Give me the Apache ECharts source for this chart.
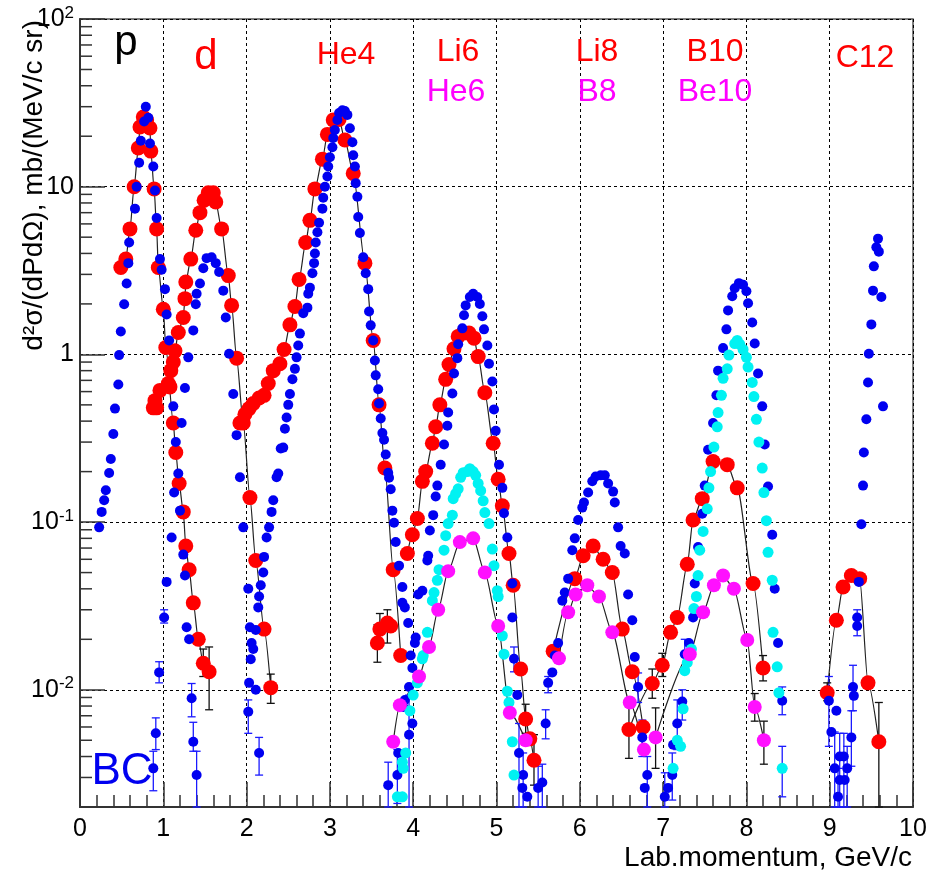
<!DOCTYPE html>
<html><head><meta charset="utf-8">
<script src="https://cdn.jsdelivr.net/npm/echarts@6/dist/echarts.min.js"></script>
<style>html,body{margin:0;padding:0;background:#fff}#c{width:930px;height:876px}</style>
</head><body><div id="c"></div>
<script>
// ---------- data (x: GeV/c, y: mb/(MeV/c sr)) ----------
const xTicks = [0,1,2,3,4,5,6,7,8,9,10];
const yMajor = [0.01,0.1,1,10,100];
const yMinor = [0.003,0.004,0.005,0.006,0.007,0.008,0.009,
  0.02,0.03,0.04,0.05,0.06,0.07,0.08,0.09,
  0.2,0.3,0.4,0.5,0.6,0.7,0.8,0.9,
  2,3,4,5,6,7,8,9,
  20,30,40,50,60,70,80,90];

const redP = [[0.49,3.3],[0.55,3.7],[0.60,5.6],[0.65,10],[0.70,17],[0.72,22.7],[0.76,26],[0.80,25],[0.84,22.4],[0.85,16.3],[0.89,9.7],[0.92,5.6],[0.94,3.3],[1.00,1.86],[1.03,1.1],[1.12,0.39],[1.15,0.26],[1.19,0.17],[1.24,0.115],[1.27,0.072],[1.31,0.052],[1.36,0.033],[1.42,0.020],[1.48,0.0144],[1.55,0.0128]];
const redD = [[0.88,0.48],[0.90,0.53],[0.92,0.48],[0.96,0.61],[1.06,0.67],[1.08,0.64],[1.09,0.80],[1.12,0.90],[1.14,1.05],[1.18,1.35],[1.24,1.66],[1.26,2.15],[1.27,2.7],[1.33,3.7],[1.39,5.5],[1.44,7],[1.49,8.3],[1.54,9.2],[1.60,9.2],[1.63,8.1],[1.70,5.6],[1.78,2.95],[1.82,1.96],[1.88,0.95],[1.96,0.39],[2.04,0.14],[2.11,0.059],[2.21,0.023],[2.29,0.0103]];
const redHe4 = [[1.92,0.39],[1.98,0.44],[2.03,0.475],[2.08,0.51],[2.15,0.55],[2.21,0.57],[2.26,0.67],[2.32,0.80],[2.40,0.88],[2.45,1.07],[2.52,1.5],[2.58,1.93],[2.63,2.8],[2.71,4.65],[2.76,6.3],[2.82,9.7],[2.91,14.6],[2.97,20.5],[3.04,25],[3.11,25.2],[3.18,19],[3.28,12],[3.42,3.5],[3.52,1.21],[3.59,0.50],[3.66,0.21],[3.76,0.052],[3.85,0.016]];
const redExtra = [[3.57,0.019],[3.60,0.023],[3.69,0.025],[3.73,0.024]];
const redLi6 = [[3.93,0.065],[3.99,0.084],[4.05,0.105],[4.11,0.175],[4.15,0.20],[4.23,0.295],[4.27,0.37],[4.32,0.50],[4.39,0.71],[4.43,0.87],[4.49,1.08],[4.54,1.28],[4.60,1.34],[4.67,1.34],[4.73,1.25],[4.78,0.97],[4.86,0.59],[4.96,0.295],[5.02,0.18],[5.07,0.125],[5.15,0.065],[5.20,0.042],[5.29,0.0133],[5.35,0.0067],[5.40,0.0051],[5.45,0.0038]];
const redLi8 = [[5.68,0.017],[5.94,0.046],[6.04,0.063],[6.16,0.072],[6.28,0.060],[6.39,0.05],[6.51,0.023],[6.63,0.0128],[6.76,0.006]];
const redB10 = [[6.59,0.0058],[6.87,0.0109],[6.99,0.014],[7.09,0.022],[7.17,0.027],[7.29,0.056],[7.36,0.103],[7.47,0.138],[7.60,0.23],[7.77,0.22],[7.89,0.16],[8.08,0.043],[8.20,0.0135]];
const redC12 = [[8.97,0.0096],[9.08,0.026],[9.16,0.041],[9.26,0.048],[9.36,0.046],[9.46,0.011],[9.59,0.0049]];

const blueP = [[0.23,0.093],[0.26,0.115],[0.29,0.135],[0.31,0.155],[0.35,0.196],[0.37,0.238],[0.40,0.335],[0.42,0.475],[0.46,0.662],[0.47,0.99],[0.49,1.37],[0.53,1.99],[0.56,2.65],[0.58,3.5],[0.59,4.65],[0.66,7.4],[0.68,10],[0.71,13.9],[0.73,18.8],[0.77,24.5],[0.79,30],[0.82,25.8],[0.84,18.1],[0.88,13.2],[0.90,9.5],[0.92,6.5],[0.96,3.7],[0.98,3.2],[1.02,2.45],[1.04,1.73],[1.07,1.21],[1.12,0.49],[1.15,0.30],[1.18,0.195],[1.13,0.15],[1.20,0.117],[1.10,0.081],[1.24,0.064],[1.26,0.048],[1.04,0.044],[1.01,0.027],[1.28,0.0236],[1.31,0.02],[0.95,0.0127],[1.34,0.0089],[0.91,0.0055],[1.36,0.0049],[0.88,0.0034],[1.40,0.0031]];
const blueD = [[1.22,0.39],[1.26,0.63],[1.30,0.96],[1.36,1.39],[1.39,1.99],[1.40,2.3],[1.44,2.65],[1.48,3.26],[1.52,3.75],[1.58,3.8],[1.63,3.5],[1.67,3.1],[1.72,2.4],[1.75,1.66],[1.79,1.01],[1.84,0.58],[1.88,0.33],[1.92,0.185],[1.96,0.093],[2.02,0.040],[2.04,0.0236],[2.06,0.019],[2.08,0.0175],[2.05,0.0152],[2.03,0.011],[2.11,0.010],[2.02,0.0074],[2.15,0.0042]];
const blueHe4 = [[2.11,0.0227],[2.14,0.031],[2.15,0.036],[2.17,0.042],[2.20,0.050],[2.21,0.062],[2.24,0.081],[2.27,0.093],[2.30,0.115],[2.32,0.135],[2.36,0.185],[2.38,0.195],[2.41,0.275],[2.44,0.278],[2.46,0.36],[2.48,0.42],[2.50,0.50],[2.52,0.58],[2.55,0.71],[2.58,0.82],[2.60,0.96],[2.62,1.13],[2.64,1.33],[2.68,1.76],[2.73,1.9],[2.74,2.3],[2.76,2.5],[2.79,3.05],[2.81,3.5],[2.82,4.0],[2.83,4.65],[2.85,5.35],[2.87,6.1],[2.91,7.4],[2.92,8.6],[2.94,10],[2.97,11.5],[2.98,13.2],[3.00,15],[3.03,17.2],[3.04,19.5],[3.06,21.8],[3.09,25],[3.11,27.5],[3.15,28.6],[3.18,28.3],[3.21,26.8],[3.24,22.3],[3.27,18.4],[3.28,15.4],[3.30,13.2],[3.31,10.5],[3.33,8.7],[3.34,6.6],[3.36,5.3],[3.40,3.8],[3.43,3.05],[3.46,2.45],[3.47,1.8],[3.49,1.49],[3.52,1.21],[3.54,0.92],[3.55,0.75],[3.58,0.62],[3.59,0.51],[3.61,0.415],[3.63,0.34],[3.65,0.31],[3.67,0.253],[3.70,0.197],[3.71,0.184],[3.73,0.157],[3.75,0.117],[3.77,0.099],[3.79,0.076],[3.83,0.055],[3.87,0.041],[3.87,0.033],[3.90,0.031],[3.94,0.025],[3.97,0.016],[3.99,0.0135],[3.95,0.0104],[3.90,0.0087],[3.88,0.0079],[3.99,0.0063],[3.95,0.0054],[3.82,0.0042],[3.81,0.0031],[3.70,0.0027]];
const blueLi6 = [[4.02,0.019],[4.03,0.0205],[4.06,0.037],[4.11,0.039],[4.17,0.059],[4.18,0.063],[4.20,0.089],[4.24,0.11],[4.27,0.142],[4.29,0.165],[4.33,0.22],[4.37,0.29],[4.41,0.375],[4.42,0.45],[4.47,0.585],[4.49,0.77],[4.53,0.95],[4.54,1.15],[4.59,1.43],[4.61,1.71],[4.63,1.96],[4.68,2.2],[4.72,2.3],[4.77,2.2],[4.80,2.0],[4.83,1.69],[4.85,1.41],[4.89,1.13],[4.91,0.88],[4.95,0.69],[4.97,0.47],[4.99,0.35],[5.03,0.22],[5.07,0.16],[5.09,0.113],[5.13,0.081],[5.19,0.043],[5.19,0.027],[5.21,0.0153],[5.25,0.0093],[5.27,0.0042],[5.31,0.0026],[5.32,0.0031],[5.37,0.0023],[5.50,0.0026],[5.55,0.0028],[5.59,0.0063]];
const blueLi8 = [[5.62,0.011],[5.67,0.0127],[5.70,0.016],[5.74,0.019],[5.79,0.034],[5.82,0.038],[5.86,0.046],[5.91,0.068],[5.94,0.080],[5.98,0.103],[6.03,0.122],[6.05,0.131],[6.10,0.15],[6.15,0.175],[6.19,0.187],[6.25,0.19],[6.30,0.19],[6.34,0.17],[6.40,0.152],[6.42,0.131],[6.46,0.093],[6.49,0.072],[6.54,0.065],[6.58,0.037],[6.63,0.026],[6.66,0.0157],[6.70,0.0104],[6.75,0.0052],[6.78,0.0026],[6.81,0.0031]];
const blueB10 = [[7.02,0.0023],[7.06,0.0026],[7.11,0.0031],[7.12,0.0047],[7.17,0.0063],[7.23,0.0085],[7.26,0.0163],[7.31,0.019],[7.36,0.027],[7.38,0.043],[7.42,0.071],[7.47,0.112],[7.50,0.165],[7.54,0.27],[7.60,0.39],[7.64,0.57],[7.66,0.80],[7.72,1.09],[7.76,1.41],[7.78,1.83],[7.83,2.22],[7.86,2.48],[7.91,2.66],[7.96,2.6],[8.00,2.38],[8.02,2.02],[8.07,1.55],[8.10,1.16],[8.14,0.77],[8.19,0.49],[8.22,0.29],[8.26,0.163],[8.31,0.084],[8.34,0.040],[8.38,0.019],[8.43,0.0086]];
const blueC12 = [[8.99,0.0086],[9.02,0.0056],[9.08,0.0075],[9.06,0.0034],[9.10,0.0023],[9.12,0.004],[9.12,0.0029],[9.17,0.004],[9.18,0.0029],[9.21,0.0034],[9.26,0.0052],[9.28,0.0104],[9.29,0.0092],[9.33,0.024],[9.33,0.027],[9.35,0.044],[9.38,0.097],[9.40,0.165],[9.41,0.26],[9.44,0.41],[9.46,0.68],[9.47,1.01],[9.50,1.51],[9.52,2.4],[9.53,3.35],[9.56,4.35],[9.58,4.9],[9.59,4.1],[9.62,2.2],[9.64,0.49]];

const cyanHe6 = [[3.81,0.0023],[3.87,0.0023],[3.87,0.0037],[3.88,0.0034],[3.91,0.0042],[3.96,0.0075],[4.00,0.0093],[4.05,0.011],[4.06,0.0118],[4.11,0.0153],[4.12,0.016],[4.17,0.022],[4.23,0.034],[4.25,0.038],[4.29,0.045],[4.31,0.052],[4.37,0.068],[4.39,0.083],[4.42,0.098],[4.47,0.11],[4.48,0.138],[4.51,0.148],[4.54,0.158],[4.57,0.185],[4.60,0.197],[4.65,0.20],[4.68,0.208],[4.72,0.20],[4.75,0.19],[4.78,0.17],[4.81,0.154],[4.84,0.134],[4.86,0.114],[4.91,0.098],[4.95,0.069],[4.97,0.055],[5.01,0.039],[5.02,0.036],[5.07,0.021],[5.09,0.0163],[5.13,0.0098],[5.15,0.0084],[5.19,0.0049],[5.21,0.0031]];
const cyanBe10 = [[7.12,0.0034],[7.17,0.005],[7.21,0.0046],[7.24,0.0077],[7.26,0.013],[7.29,0.0145],[7.34,0.0175],[7.37,0.0305],[7.40,0.036],[7.42,0.048],[7.44,0.068],[7.48,0.088],[7.53,0.12],[7.55,0.16],[7.57,0.20],[7.61,0.28],[7.65,0.37],[7.66,0.45],[7.70,0.57],[7.72,0.72],[7.77,0.82],[7.79,0.99],[7.86,1.16],[7.89,1.21],[7.92,1.15],[7.96,1.07],[8.00,0.96],[8.02,0.84],[8.07,0.68],[8.09,0.56],[8.12,0.41],[8.15,0.30],[8.19,0.21],[8.21,0.15],[8.24,0.102],[8.26,0.066],[8.31,0.045],[8.32,0.022],[8.37,0.0137],[8.39,0.0096],[8.43,0.0034]];

const magHe6 = [[3.76,0.0049],[3.84,0.0081],[4.07,0.012],[4.19,0.018],[4.30,0.030],[4.42,0.051],[4.56,0.076],[4.72,0.080],[4.86,0.050],[5.02,0.024],[5.16,0.0073],[5.35,0.005]];
const magB8 = [[5.75,0.0154],[5.86,0.029],[5.95,0.037],[6.09,0.042],[6.23,0.036],[6.39,0.022],[6.60,0.0084],[6.77,0.0044]];
const magBe10 = [[6.91,0.0052],[7.32,0.0163],[7.48,0.029],[7.61,0.042],[7.72,0.048],[7.85,0.040],[8.01,0.0198],[8.10,0.0079],[8.21,0.005]];

// error bars: [x, low, high]
const blueErr = [[0.88,0.0025,0.0043],[0.91,0.0044,0.0068],[0.95,0.011,0.0147],[1.01,0.025,0.030],[1.34,0.0069,0.0109],[1.36,0.0043,0.0064],[1.40,0.002,0.0043],[2.02,0.0055,0.0087],[2.15,0.0031,0.0052],[3.70,0.002,0.0037],[3.81,0.0021,0.0044],[3.95,0.002,0.0093],[5.27,0.002,0.0063],[5.32,0.002,0.0042],[5.50,0.002,0.0035],[5.55,0.002,0.0036],[5.59,0.0051,0.0076],[5.21,0.0128,0.018],[5.62,0.0096,0.012],[6.75,0.004,0.0066],[6.81,0.002,0.004],[6.70,0.0084,0.0126],[7.02,0.002,0.0032],[7.11,0.0022,0.0042],[7.17,0.0044,0.0087],[7.23,0.0066,0.010],[7.26,0.013,0.020],[8.43,0.0071,0.0104],[8.43,0.0023,0.0046],[8.99,0.0046,0.012],[9.06,0.002,0.0056],[9.10,0.002,0.0034],[9.12,0.002,0.0055],[9.17,0.002,0.0055],[9.21,0.002,0.0046],[9.26,0.0035,0.0075],[9.28,0.0075,0.014],[9.33,0.021,0.030]];
const blackErr = [[1.48,0.012,0.0175],[1.55,0.0076,0.018],[2.29,0.0083,0.0124],[3.57,0.0146,0.0244],[3.60,0.0186,0.0285],[3.69,0.019,0.030],[5.35,0.0055,0.0082],[5.45,0.0027,0.0054],[6.59,0.0039,0.0079],[6.87,0.0089,0.0133],[6.99,0.012,0.0165],[8.20,0.0113,0.016],[8.97,0.0086,0.011],[9.59,0.002,0.0084],[8.10,0.0065,0.0095],[8.21,0.0036,0.0065],[6.91,0.0034,0.0078]];

// ---------- chart ----------
const FONT = '"Liberation Sans", Arial, sans-serif';
const chart = echarts.init(document.getElementById('c'), null, {renderer:'canvas'});

function errSeries(data, color, z) {
  return {type:'custom', z, data, silent:true, encode:{x:0, y:[1,2]},
    renderItem(params, api) {
      const x = api.value(0), lo = api.value(1), hi = api.value(2);
      const a = api.coord([x, lo]), b = api.coord([x, hi]);
      const w = 4, st = {stroke: color, lineWidth: 1.3};
      return {type:'group', children:[
        {type:'line', shape:{x1:a[0], y1:a[1], x2:b[0], y2:b[1]}, style:st},
        {type:'line', shape:{x1:a[0]-w, y1:a[1], x2:a[0]+w, y2:a[1]}, style:st},
        {type:'line', shape:{x1:b[0]-w, y1:b[1], x2:b[0]+w, y2:b[1]}, style:st}
      ]};
    }};
}
function fitLine(data) {
  return {type:'line', z:1, data, showSymbol:false, symbol:'none', smooth:0.25, smoothMonotone:'x',
    lineStyle:{color:'#222', width:1.2}, silent:true, animation:false};
}
function scatter(data, color, size, z) {
  return {type:'scatter', z, data, symbolSize:size, itemStyle:{color, opacity:1}, silent:true};
}

const redAll = [].concat(redP, redD, redHe4, redExtra, redLi6, redLi8, redB10, redC12);
const blueAll = [].concat(blueP, blueD, blueHe4, blueLi6, blueLi8, blueB10, blueC12);
const cyanAll = [].concat(cyanHe6, cyanBe10);
const magAll = [].concat(magHe6, magB8, magBe10);

const txt = (t, x, y, size, color) => ({type:'text', x, y, z:100,
  style:{text:t, fill:color, fontSize:size, fontFamily:FONT, align:'center', verticalAlign:'middle'}});

chart.setOption({
  animation:false,
  backgroundColor:'#fff',
  grid:{left:80, right:17, top:19, bottom:69, containLabel:false, outerBoundsMode:'none',
    show:true, borderColor:'#555', borderWidth:1.5, backgroundColor:'transparent'},
  xAxis:{type:'value', min:0, max:10, interval:1,
    axisLine:{show:true, onZero:false, lineStyle:{color:'#333', width:2}},
    axisTick:{show:true, inside:true, length:25, lineStyle:{color:'#333', width:1.5}},
    minorTick:{show:true, splitNumber:5, length:12, lineStyle:{color:'#333', width:1.5}},
    axisLabel:{color:'#000', fontSize:25, fontFamily:FONT, margin:10, showMinLabel:true, showMaxLabel:true},
    splitLine:{show:true, lineStyle:{color:'#000', width:1, type:[3,3]}},
    minorSplitLine:{show:false}},
  yAxis:{type:'log', logBase:10, min:0.002, max:100,
    axisLine:{show:true, lineStyle:{color:'#333', width:2}},
    axisTick:{show:true, inside:true, length:25, lineStyle:{color:'#333', width:1.5}},
    minorTick:{show:false},
    axisLabel:{color:'#000', margin:6, showMinLabel:false,
      formatter: v => {
        const l = Math.log10(v), e = Math.round(l);
        if (Math.abs(l - e) > 1e-6) return '';
        if (e === 0) return '{n|1}';
        if (e === 1) return '{n|10}';
        return '{n|10}{s|' + e + '}';
      },
      rich:{n:{fontSize:25, fontFamily:FONT, color:'#000'},
            s:{fontSize:17, fontFamily:FONT, color:'#000', verticalAlign:'top', padding:[0,0,12,0]}}},
    splitLine:{show:true, lineStyle:{color:'#000', width:1, type:[3,3]}}},
  series:[
    fitLine(redP), fitLine(redD), fitLine(redHe4), fitLine(redLi6), fitLine(redLi8), fitLine(redB10), fitLine(redC12),
    fitLine(magHe6), fitLine(magB8), fitLine(magBe10),
    errSeries(blueErr, '#1a1aff', 2),
    errSeries(blackErr, '#111', 2),
    scatter(redAll, '#ff0000', 15, 3),
    scatter(blueAll, '#0000f0', 10, 4),
    scatter(cyanAll, '#00f2f2', 11, 5),
    scatter(magAll, '#ff10ff', 14, 6),
    {type:'custom', z:7, silent:true, data: yMinor.map(v => [0, v]), encode:{x:0, y:1},
      renderItem(params, api) {
        const p = api.coord([0, api.value(1)]);
        return {type:'line', shape:{x1:p[0], y1:p[1], x2:p[0]+12, y2:p[1]}, style:{stroke:'#333', lineWidth:1.5}};
      }}
  ],
  graphic:[
    txt('p', 126, 43, 42, '#000'),
    txt('d', 206, 57, 42, '#ff0000'),
    txt('He4', 346, 55, 32, '#ff0000'),
    txt('Li6', 458, 52, 32, '#ff0000'),
    txt('He6', 456, 92, 32, '#ff00ff'),
    txt('Li8', 597, 52, 32, '#ff0000'),
    txt('B8', 597, 92, 32, '#ff00ff'),
    txt('B10', 715, 52, 32, '#ff0000'),
    txt('Be10', 715, 92, 32, '#ff00ff'),
    txt('C12', 865, 58, 32, '#ff0000'),
    txt('BC', 122, 772, 44, '#0000f0'),
    {type:'text', x:912, y:858, z:100, style:{text:'Lab.momentum, GeV/c', fill:'#000', fontSize:28, fontFamily:FONT, align:'right', verticalAlign:'middle'}},
    {type:'text', x:34, y:20, rotation:Math.PI/2, z:100, style:{text:'d\u00b2\u03c3/(dPd\u03a9), mb/(MeV/c sr)', fill:'#000', fontSize:28, fontFamily:FONT, align:'right', verticalAlign:'middle'}}
  ]
});
</script></body></html>
